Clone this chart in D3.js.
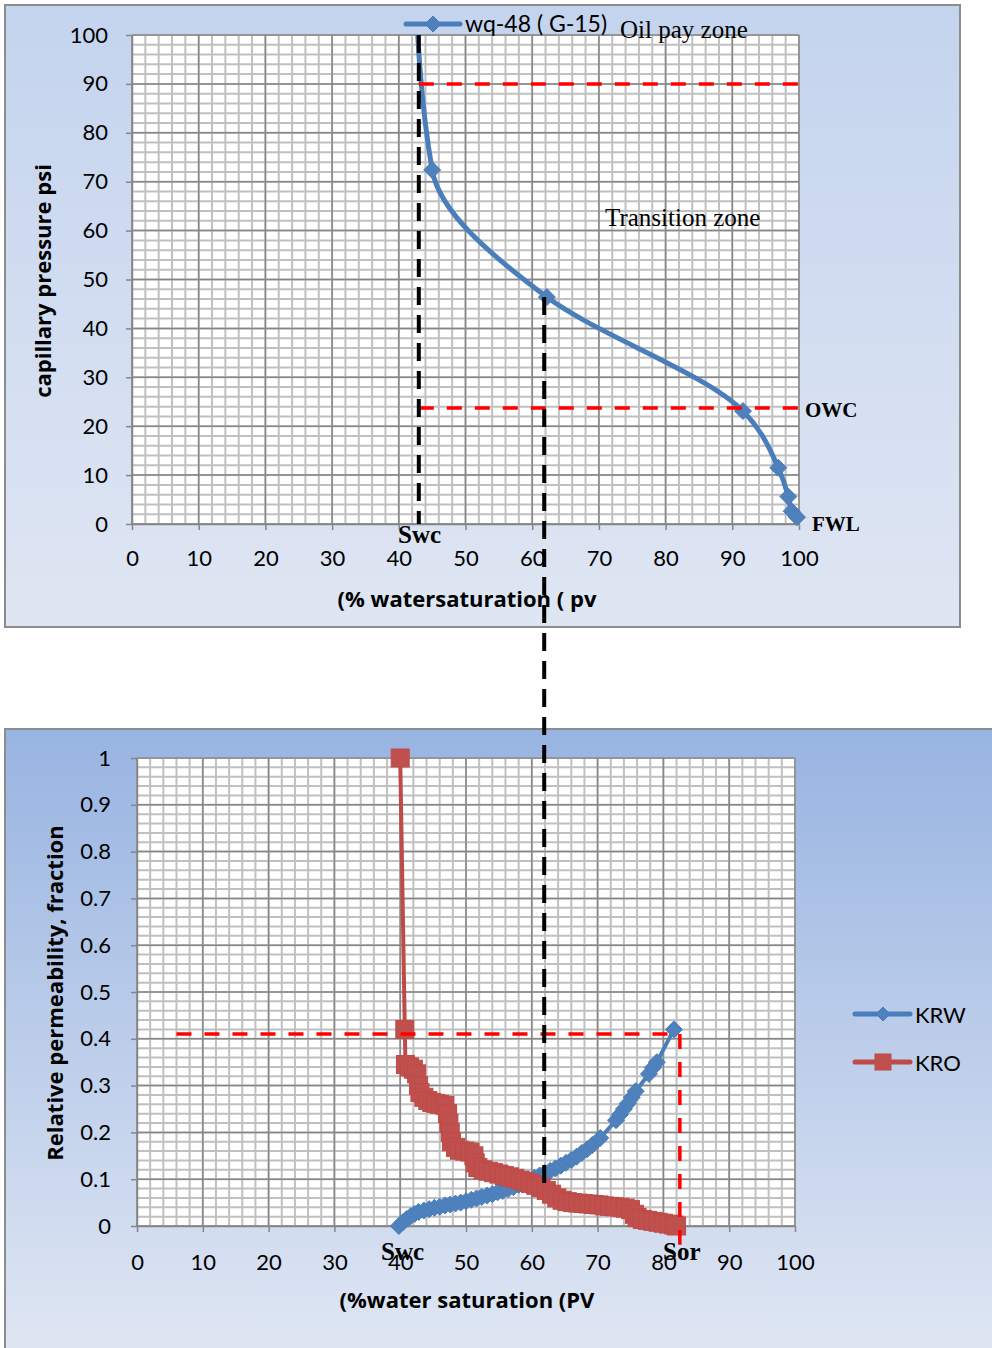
<!DOCTYPE html>
<html>
<head>
<meta charset="utf-8">
<script src="https://cdn.jsdelivr.net/npm/d3@7"></script>
<style>
  body { margin: 0; background: #fff; }
  text { font-family: Lato, "Open Sans", sans-serif; }
  .serif { font-family: "Liberation Serif", "DejaVu Serif", serif; }
  .title { font-family: "Open Sans", sans-serif; font-weight: bold; font-size: 22px; }
</style>
</head>
<body>
<script>
const WIDTH = 992;
const HEIGHT = 1348;

// capillary pressure curve, well wq-48 (G-15)
const pcSw = [42.3, 45.0, 62.2, 91.6, 96.9, 98.4, 98.9, 99.7];
const pcPsi = [115, 72.4, 46.4, 23.1, 11.5, 5.6, 2.6, 1.4];

// relative permeability to water
const krwSw = [39.8, 40.4, 41.0, 41.6, 42.2, 42.8, 43.6, 44.4, 45.2, 46.0, 46.8, 47.6, 48.4, 49.2,
  50.0, 50.8, 51.6, 52.4, 53.2, 54.0, 54.8, 55.6, 56.4, 57.2, 58.0, 58.8, 59.6, 60.4, 61.2, 62.0,
  62.8, 63.6, 64.4, 65.2, 66.0, 66.8, 67.6, 68.4, 69.2, 70.4, 72.8, 73.4, 74.0, 74.6, 75.2, 75.8,
  77.8, 78.4, 79.0, 81.6];
const krwVal = [0.000, 0.008, 0.015, 0.021, 0.026, 0.030, 0.033, 0.036, 0.039, 0.041, 0.044, 0.046, 0.048, 0.050,
  0.053, 0.056, 0.059, 0.062, 0.065, 0.068, 0.072, 0.075, 0.079, 0.083, 0.088, 0.093, 0.098, 0.103, 0.108, 0.113,
  0.118, 0.123, 0.129, 0.135, 0.141, 0.148, 0.156, 0.164, 0.173, 0.188, 0.226, 0.238, 0.250, 0.262, 0.275, 0.288,
  0.325, 0.338, 0.350, 0.420];

// relative permeability to oil
const kroSw = [40.0, 40.7, 40.8, 41.4, 42.0, 42.5, 42.8, 43.0, 43.6, 44.2, 44.8, 45.4, 46.0, 46.8, 47.2,
  47.4, 47.6, 47.8, 48.4, 49.0, 49.8, 50.6, 51.2, 51.4, 51.8, 52.6, 53.4, 54.2, 55.0, 55.8, 56.6,
  57.4, 58.2, 59.0, 59.8, 60.6, 61.4, 62.2, 63.0, 63.8, 64.6, 65.4, 66.2, 67.0, 67.8, 68.6, 69.4,
  70.2, 71.0, 71.8, 72.6, 73.4, 74.2, 75.0, 75.6, 76.0, 76.8, 77.6, 78.4, 79.2, 80.0, 80.8, 81.6, 82.0];
const kroVal = [1.000, 0.420, 0.345, 0.340, 0.335, 0.325, 0.300, 0.285, 0.275, 0.268, 0.264, 0.262, 0.260, 0.258, 0.240,
  0.220, 0.200, 0.180, 0.168, 0.162, 0.160, 0.158, 0.150, 0.135, 0.125, 0.120, 0.117, 0.114, 0.111, 0.108, 0.105,
  0.102, 0.098, 0.095, 0.091, 0.087, 0.082, 0.076, 0.068, 0.060, 0.055, 0.052, 0.050, 0.049, 0.048, 0.047, 0.046,
  0.045, 0.043, 0.042, 0.041, 0.040, 0.038, 0.035, 0.025, 0.018, 0.014, 0.012, 0.010, 0.008, 0.006, 0.004, 0.002, 0.000];

// reference marks (data units)
const swc = 43;        // irreducible water saturation on Pc plot
const swMid = 61.8;    // tie line between both plots
const sor = 82.5;
const pcOilZone = 90;
const pcOwc = 23.7;
const krLine = 0.41;

const xTicks = d3.range(0, 101, 10);
const pcTicks = d3.range(0, 101, 10);
const krTicks = d3.range(0, 1.01, 0.1).map(v => +v.toFixed(1));

const BLUE = "#4a7ebb", BLUE_FILL = "#4f81bd";
const RED = "#be4b48", RED_FILL = "#c0504d";

const svg = d3.select("body").append("svg")
  .attr("width", WIDTH).attr("height", HEIGHT);

const defs = svg.append("defs");
function gradient(id, c1, c2) {
  const g = defs.append("linearGradient").attr("id", id)
    .attr("x1", 0).attr("y1", 0).attr("x2", 0).attr("y2", 1);
  g.append("stop").attr("offset", "0%").attr("stop-color", c1);
  g.append("stop").attr("offset", "100%").attr("stop-color", c2);
}
gradient("bgTop", "#c4d4ee", "#dfe6f3");
gradient("bgBot", "#98b4e1", "#e0e7f3");

// panels
svg.append("rect").attr("x", 5).attr("y", 5).attr("width", 955).attr("height", 622)
  .attr("fill", "url(#bgTop)").attr("stroke", "#8c8c8c").attr("stroke-width", 2);
svg.append("rect").attr("x", 5).attr("y", 729).attr("width", 995).attr("height", 630)
  .attr("fill", "url(#bgBot)").attr("stroke", "#8c8c8c").attr("stroke-width", 2);

const diamond = r => `M0,${-r}L${r},0L0,${r}L${-r},0Z`;

function drawGrid(g, x, y, xMinor, yMinor, xMajor, yMajor) {
  const [x0, x1] = x.range(), [y0, y1] = y.range();
  g.append("rect").attr("x", x0).attr("y", y1).attr("width", x1 - x0).attr("height", y0 - y1).attr("fill", "#fff");
  g.selectAll(".vmin").data(xMinor).join("line").attr("class", "vmin")
    .attr("x1", d => x(d)).attr("x2", d => x(d)).attr("y1", y0).attr("y2", y1)
    .attr("stroke", "#c0c0c0").attr("stroke-width", 2);
  g.selectAll(".hmin").data(yMinor).join("line").attr("class", "hmin")
    .attr("y1", d => y(d)).attr("y2", d => y(d)).attr("x1", x0).attr("x2", x1)
    .attr("stroke", "#c0c0c0").attr("stroke-width", 2);
  g.selectAll(".vmaj").data(xMajor).join("line").attr("class", "vmaj")
    .attr("x1", d => x(d)).attr("x2", d => x(d)).attr("y1", y0).attr("y2", y1)
    .attr("stroke", "#878787").attr("stroke-width", 1.5);
  g.selectAll(".hmaj").data(yMajor).join("line").attr("class", "hmaj")
    .attr("y1", d => y(d)).attr("y2", d => y(d)).attr("x1", x0).attr("x2", x1)
    .attr("stroke", "#878787").attr("stroke-width", 1.5);
}

function styleAxis(g) {
  g.selectAll("path, line").attr("stroke", "#868686").attr("stroke-width", 1.5);
  g.selectAll("text").attr("fill", "#000").attr("font-size", 22).attr("font-family", "Lato, sans-serif");
}

// ---------- top chart: capillary pressure ----------
const xTop = d3.scaleLinear().domain([0, 100]).range([132, 799]);
const yTop = d3.scaleLinear().domain([0, 100]).range([524, 35]);
const gTop = svg.append("g");

drawGrid(gTop, xTop, yTop, d3.range(0, 101, 2), d3.range(0, 101, 2), xTicks, pcTicks);

gTop.append("g").attr("transform", `translate(${xTop(0)},0)`)
  .call(d3.axisLeft(yTop).tickValues(pcTicks).tickSize(6).tickPadding(18).tickSizeOuter(0))
  .call(styleAxis);
gTop.append("g").attr("transform", `translate(0,${yTop(0)})`)
  .call(d3.axisBottom(xTop).tickValues(xTicks).tickSize(6).tickPadding(20).tickSizeOuter(0))
  .call(styleAxis);

defs.append("clipPath").attr("id", "clipTop").append("rect")
  .attr("x", xTop(0)).attr("y", yTop(100)).attr("width", xTop(100) - xTop(0) + 12).attr("height", yTop(0) - yTop(100) + 12);

const pcData = pcSw.map((s, i) => ({ s, p: pcPsi[i] }));
const pcClip = gTop.append("g").attr("clip-path", "url(#clipTop)");
pcClip.append("path").datum(pcData)
  .attr("d", d3.line().x(d => xTop(d.s)).y(d => yTop(d.p)).curve(d3.curveMonotoneY))
  .attr("fill", "none").attr("stroke", BLUE).attr("stroke-width", 5).attr("stroke-linecap", "round");
pcClip.selectAll(".pt").data(pcData).join("path")
  .attr("transform", d => `translate(${xTop(d.s)},${yTop(d.p)})`)
  .attr("d", diamond(8.5)).attr("fill", BLUE_FILL).attr("stroke", BLUE);

// top annotations
const dashRed = { stroke: "#ff0000", w: 3.5, dash: "15,13" };
const dashBlack = { stroke: "#000", w: 4, dash: "18,10" };
function dline(g, x1, y1, x2, y2, st) {
  g.append("line").attr("x1", x1).attr("y1", y1).attr("x2", x2).attr("y2", y2)
    .attr("stroke", st.stroke).attr("stroke-width", st.w).attr("stroke-dasharray", st.dash);
}
dline(gTop, xTop(swc), yTop(pcOilZone), xTop(100), yTop(pcOilZone), dashRed);
dline(gTop, xTop(swc), yTop(pcOwc), xTop(100), yTop(pcOwc), dashRed);
dline(gTop, xTop(swc), yTop(100), xTop(swc), yTop(0), dashBlack);

// legend top
const lgTop = gTop.append("g").attr("transform", "translate(406,24)");
lgTop.append("line").attr("x1", 0).attr("x2", 54).attr("stroke", BLUE).attr("stroke-width", 5).attr("stroke-linecap", "round");
lgTop.append("path").attr("transform", "translate(27,0)").attr("d", diamond(8)).attr("fill", BLUE_FILL).attr("stroke", BLUE);
lgTop.append("text").attr("x", 59).attr("y", 8).attr("font-size", 23).attr("font-family", "'Open Sans', sans-serif").text("wq-48 ( G-15)");

gTop.append("text").attr("class", "serif").attr("x", 620).attr("y", 38).attr("font-size", 25).text("Oil pay zone");
gTop.append("text").attr("class", "serif").attr("x", 605).attr("y", 226).attr("font-size", 25).text("Transition zone");
gTop.append("text").attr("class", "serif").attr("x", 805).attr("y", 417).attr("font-size", 21).attr("font-weight", "bold").text("OWC");
gTop.append("text").attr("class", "serif").attr("x", 812).attr("y", 531).attr("font-size", 21).attr("font-weight", "bold").text("FWL");
gTop.append("text").attr("class", "serif").attr("x", 398).attr("y", 543).attr("font-size", 25).attr("font-weight", "bold").text("Swc");

gTop.append("text").attr("class", "title").attr("transform", "translate(51,281) rotate(-90)").attr("text-anchor", "middle")
  .text("capillary pressure psi");
gTop.append("text").attr("class", "title").attr("x", 467).attr("y", 607).attr("text-anchor", "middle")
  .text("(% watersaturation ( pv");

// ---------- bottom chart: relative permeability ----------
const xBot = d3.scaleLinear().domain([0, 100]).range([137, 795]);
const yBot = d3.scaleLinear().domain([0, 1]).range([1226, 758]);
const gBot = svg.append("g");

drawGrid(gBot, xBot, yBot, d3.range(0, 101, 2), d3.range(0, 1.001, 0.02), xTicks, krTicks);

gBot.append("g").attr("transform", `translate(${xBot(0)},0)`)
  .call(d3.axisLeft(yBot).tickValues(krTicks).tickFormat(d => String(+d.toFixed(1)))
    .tickSize(6).tickPadding(20).tickSizeOuter(0))
  .call(styleAxis);
gBot.append("g").attr("transform", `translate(0,${yBot(0)})`)
  .call(d3.axisBottom(xBot).tickValues(xTicks).tickSize(6).tickPadding(22).tickSizeOuter(0))
  .call(styleAxis);

const krwData = krwSw.map((s, i) => ({ s, k: krwVal[i] }));
const kroData = kroSw.map((s, i) => ({ s, k: kroVal[i] }));
const lineBot = d3.line().x(d => xBot(d.s)).y(d => yBot(d.k));

gBot.append("path").datum(krwData).attr("d", lineBot)
  .attr("fill", "none").attr("stroke", BLUE).attr("stroke-width", 4);
gBot.selectAll(".krw").data(krwData).join("path")
  .attr("transform", d => `translate(${xBot(d.s)},${yBot(d.k)})`)
  .attr("d", diamond(8.5)).attr("fill", BLUE_FILL).attr("stroke", BLUE);

gBot.append("path").datum(kroData).attr("d", lineBot)
  .attr("fill", "none").attr("stroke", RED).attr("stroke-width", 4);
gBot.selectAll(".kro").data(kroData).join("rect")
  .attr("x", d => xBot(d.s) - 9).attr("y", d => yBot(d.k) - 9)
  .attr("width", 18).attr("height", 18).attr("fill", RED_FILL).attr("stroke", RED);

dline(gBot, xBot(6), yBot(krLine), xBot(sor), yBot(krLine), dashRed);
dline(gBot, xBot(sor), yBot(krLine), xBot(sor), yBot(-0.04), dashRed);

gBot.append("text").attr("class", "serif").attr("x", 381).attr("y", 1260).attr("font-size", 25).attr("font-weight", "bold").text("Swc");
gBot.append("text").attr("class", "serif").attr("x", 663).attr("y", 1260).attr("font-size", 25).attr("font-weight", "bold").text("Sor");

// legend bottom
const lgItems = [
  { name: "KRW", color: BLUE, fill: BLUE_FILL, y: 1014, shape: "diamond" },
  { name: "KRO", color: RED, fill: RED_FILL, y: 1062, shape: "square" }
];
lgItems.forEach(it => {
  const g = gBot.append("g").attr("transform", `translate(855,${it.y})`);
  g.append("line").attr("x1", 0).attr("x2", 55).attr("stroke", it.color).attr("stroke-width", 5).attr("stroke-linecap", "round");
  if (it.shape === "diamond") {
    g.append("path").attr("transform", "translate(28,0)").attr("d", diamond(7)).attr("fill", it.fill).attr("stroke", it.color);
  } else {
    g.append("rect").attr("x", 20).attr("y", -8).attr("width", 16).attr("height", 16).attr("fill", it.fill).attr("stroke", it.color);
  }
  g.append("text").attr("x", 60).attr("y", 9).attr("font-size", 22).text(it.name);
});

gBot.append("text").attr("class", "title").attr("transform", "translate(63,993) rotate(-90)").attr("text-anchor", "middle")
  .text("Relative permeability, fraction");
gBot.append("text").attr("class", "title").attr("x", 467).attr("y", 1308).attr("text-anchor", "middle")
  .text("(%water saturation (PV");

// tie line running from the Pc curve down into the kr plot
dline(svg, xTop(swMid), yTop(46.4), xTop(swMid), yBot(0.09), dashBlack);
</script>
</body>
</html>
